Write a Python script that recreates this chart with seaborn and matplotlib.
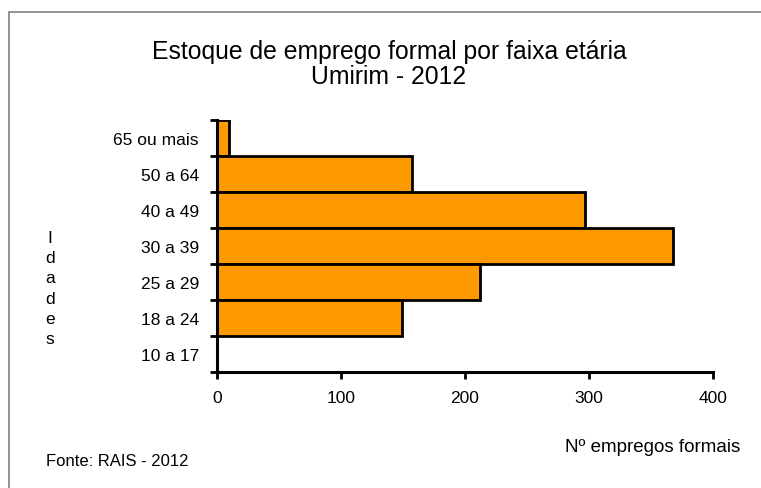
import matplotlib
matplotlib.use("Agg")
import matplotlib.pyplot as plt
import matplotlib.patches as mpatches
import numpy as np
import pandas as pd
import seaborn as sns

# Dados (de cima para baixo, como no gráfico)
faixas = ["65 ou mais", "50 a 64", "40 a 49", "30 a 39", "25 a 29", "18 a 24", "10 a 17"]
empregos = [10, 157, 297, 368, 212, 149, 0]
x_ticks = [0, 100, 200, 300, 400]

df = pd.DataFrame({"faixa": faixas, "empregos": empregos})

sns.set_theme(style="white")
plt.rcParams["font.family"] = ["Liberation Sans", "DejaVu Sans"]

W, H = 761, 489
fig = plt.figure(figsize=(W / 100, H / 100), dpi=100)
ax = fig.add_axes([217 / W, 1 - 373 / H, (713 - 217) / W, (373 - 121) / H])

sns.barplot(data=df, x="empregos", y="faixa", order=faixas, orient="h",
            color="#FF9900", saturation=1, width=1.0,
            edgecolor="black", linewidth=2, ax=ax)

ax.set_xlim(0, 400)
ax.set_ylim(len(faixas) - 0.5, -0.5)
ax.set_xticks(x_ticks)
ax.set_xticklabels([str(v) for v in x_ticks], fontsize=12.5, color="black")
ax.set_yticks(range(len(faixas)))
ax.set_yticklabels(faixas, fontsize=12.5, color="black")
ax.set_yticks(np.arange(-0.5, len(faixas), 1), minor=True)
ax.tick_params(axis="y", which="major", length=0, pad=13)
ax.tick_params(axis="y", which="minor", length=5, width=2, color="black", direction="out", left=True)
ax.tick_params(axis="x", which="major", length=5, width=2, color="black", direction="out", bottom=True, pad=8)
ax.set_xlabel("")
ax.set_ylabel("")

for s in ["top", "right"]:
    ax.spines[s].set_visible(False)
for s in ["left", "bottom"]:
    ax.spines[s].set_color("black")
    ax.spines[s].set_linewidth(2.2)

# Título
fig.text(389 / W, 1 - 52 / H, "Estoque de emprego formal por faixa etária",
         ha="center", va="center", fontsize=17.8, color="black")
fig.text(389 / W, 1 - 77 / H, "Umirim - 2012",
         ha="center", va="center", fontsize=17.8, color="black")

# Rótulo vertical "Idades"
fig.text(50 / W, 1 - 289 / H, "I\nd\na\nd\ne\ns", ha="center", va="center",
         fontsize=12.5, linespacing=1.42, color="black")

fig.text(740 / W, 1 - 447 / H, "Nº empregos formais", ha="right", va="center",
         fontsize=13.5, color="black")
fig.text(46 / W, 1 - 462 / H, "Fonte: RAIS - 2012", ha="left", va="center",
         fontsize=12, color="black")

# Moldura do gráfico
fig.patches.append(mpatches.Rectangle((9 / W, -0.1), 1.2, 1.1 - 13 / H,
                                      transform=fig.transFigure, fill=False,
                                      edgecolor="#808080", linewidth=1.2))

fig.savefig("out.png", dpi=100)
